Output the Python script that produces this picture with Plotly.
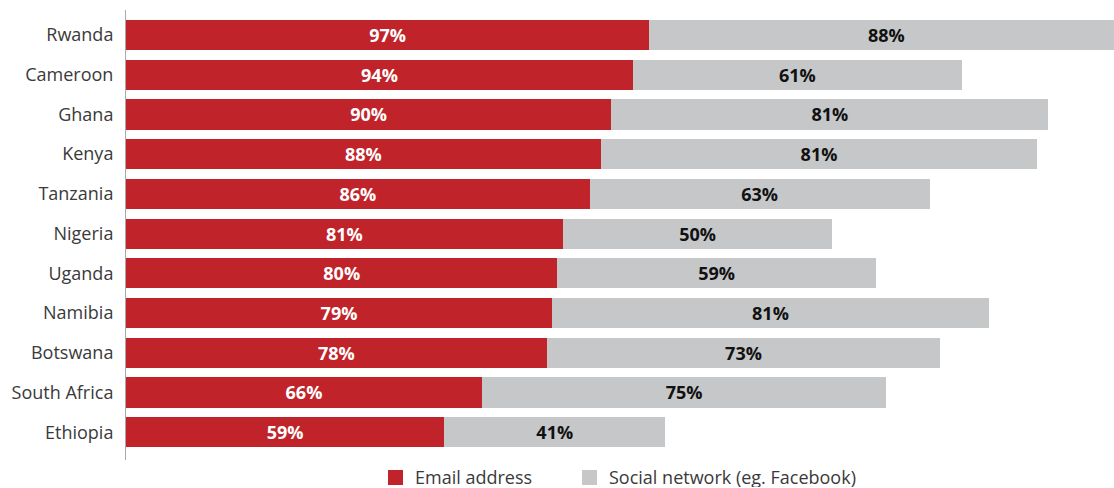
import plotly.graph_objects as go

countries = ["Rwanda", "Cameroon", "Ghana", "Kenya", "Tanzania", "Nigeria",
             "Uganda", "Namibia", "Botswana", "South Africa", "Ethiopia"]
email = [97, 94, 90, 88, 86, 81, 80, 79, 78, 66, 59]
social = [88, 61, 81, 81, 63, 50, 59, 81, 73, 75, 41]
series_names = ["Email address", "Social network (eg. Facebook)"]

RED = "#C0242A"
GREY = "#C6C7C9"
FONT = "Open Sans"
TEXT = "#3A3A3A"

fig = go.Figure()
fig.add_trace(go.Bar(
    y=countries, x=email, orientation="h", name=series_names[0],
    marker=dict(color=RED, line=dict(width=0)),
    text=[f"{v}%" for v in email], textposition="inside",
    insidetextanchor="middle", constraintext="none",
    textfont=dict(family=FONT, size=18, color="white", weight="bold"),
    width=0.76, showlegend=False,
))
fig.add_trace(go.Bar(
    y=countries, x=social, orientation="h", name=series_names[1],
    marker=dict(color=GREY, line=dict(width=0)),
    text=[f"{v}%" for v in social], textposition="inside",
    insidetextanchor="middle", constraintext="none",
    textfont=dict(family=FONT, size=18, color="#111111", weight="bold"),
    width=0.76, showlegend=False,
))

# Legend below the plot: coloured squares with labels (paper coordinates)
plot_left, plot_w = 126, 988
plot_bottom, plot_h = 460, 450


def px_x(px):
    return (px - plot_left) / plot_w


def px_y(py):
    return (plot_bottom - py) / plot_h


legend_items = [(series_names[0], RED, 388), (series_names[1], GREY, 582)]
for label, colour, x0 in legend_items:
    fig.add_shape(type="rect", xref="paper", yref="paper",
                  x0=px_x(x0), x1=px_x(x0 + 15), y0=px_y(485), y1=px_y(470),
                  fillcolor=colour, line=dict(width=0))
    fig.add_annotation(xref="paper", yref="paper", x=px_x(x0 + 25), y=px_y(477),
                       xanchor="left", yanchor="middle", showarrow=False,
                       height=20, valign="middle",
                       text=label, font=dict(family=FONT, size=18, color=TEXT))

fig.update_layout(
    barmode="stack",
    width=1114, height=488,
    margin=dict(l=126, r=0, t=10, b=28, autoexpand=False),
    paper_bgcolor="white", plot_bgcolor="white",
    font=dict(family=FONT, size=18, color=TEXT),
    showlegend=False,
)
fig.update_xaxes(range=[0, 183.2], visible=False, fixedrange=True)
fig.update_yaxes(categoryorder="array", categoryarray=countries,
                 range=[10.7, -0.63], showline=True, linecolor="#AAAAAA",
                 linewidth=1, showgrid=False, ticks="", ticklabelstandoff=8,
                 tickfont=dict(family=FONT, size=18, color=TEXT))

fig.write_html("out.html")
